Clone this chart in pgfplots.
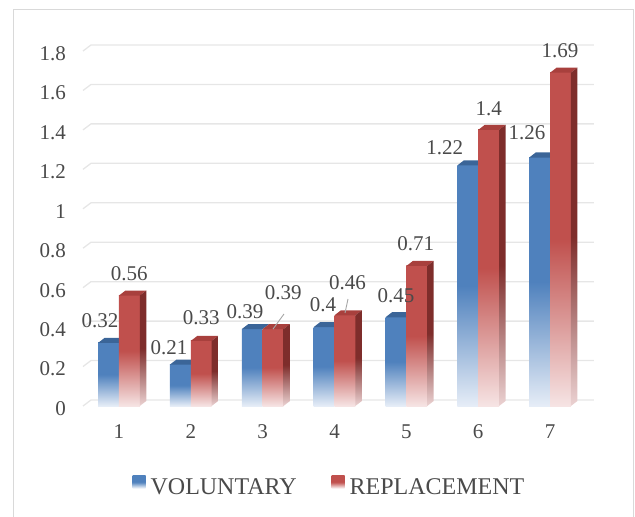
\documentclass[border=0pt]{standalone}
\usepackage{pgfplots}
\pgfplotsset{compat=1.18}
\usepackage{pgfplotstable}
\usepackage{fontspec}
\setmainfont{Liberation Serif}
\definecolor{cblue}{HTML}{4F81BD}
\definecolor{cbluetop}{HTML}{3B6598}
\definecolor{cbluelow}{HTML}{E6EDF7}
\definecolor{cred}{HTML}{C0504D}
\definecolor{credtop}{HTML}{A8403D}
\definecolor{credside}{HTML}{7E2D2B}
\definecolor{credlow}{HTML}{F6E4E4}
\definecolor{credsidelow}{HTML}{EBD2D2}
\definecolor{cgrid}{HTML}{E6E6E6}
\definecolor{cframe}{HTML}{D9D9D9}
\definecolor{ctext}{HTML}{4A4A4A}
\definecolor{clead}{HTML}{A6A6A6}

% k = category, v = value, lx/ly = label offset (pt) from top of the bar
\pgfplotstableread{
k v lx ly lab
1 0.32 -8.5 21.9 0.32
2 0.21 -11.4 16.6 0.21
3 0.39 -7.2 17.0 0.39
4 0.40 -1.0 22.0 0.4
5 0.45 0.0 22.0 0.45
6 1.22 -23.0 18.0 1.22
7 1.26 -12.7 24.5 1.26
}\voluntary

\pgfplotstableread{
k v lx ly lab
1 0.56 0.0 21.6 0.56
2 0.33 0.0 23.4 0.33
3 0.39 10.3 36.6 0.39
4 0.46 2.6 32.8 0.46
5 0.71 -1.0 22.0 0.71
6 1.40 0.0 21.6 1.4
7 1.69 -0.5 21.9 1.69
}\replacement

\pgfplotstableread{
x y
0.5 0
0.611 0.0304
7.61 0.0304
}\gridprof

\newcommand\bluetop[2]{%
  \pgfmathsetmacro\xa{#1-0.29}\pgfmathsetmacro\xb{#1}%
  \pgfmathsetmacro\xc{#1+0.0905}\pgfmathsetmacro\xd{#1-0.29+0.0905}%
  \pgfmathsetmacro\yt{#2+0.0254}%
  \addplot[fill=cbluetop, draw=none, forget plot] coordinates {(\xa,#2) (\xb,#2) (\xc,\yt) (\xd,\yt)};
}
\newcommand\redfaces[2]{%
  \pgfmathsetmacro\xa{#1}\pgfmathsetmacro\xb{#1+0.29}%
  \pgfmathsetmacro\xc{#1+0.29+0.0905}\pgfmathsetmacro\xd{#1+0.0905}%
  \pgfmathsetmacro\yt{#2+0.0254}%
  \addplot[fill=credtop, draw=none, forget plot] coordinates {(\xa,#2) (\xb,#2) (\xc,\yt) (\xd,\yt)};
  \addplot[draw=none, top color=credside, bottom color=credsidelow, middle color=credside, forget plot] coordinates {(\xb,0) (\xc,0.0254) (\xc,\yt) (\xb,#2)};
}

\begin{document}
\begin{tikzpicture}
\useasboundingbox (0pt,0pt) rectangle (635pt,-517pt);
\draw[cframe, line width=1.3pt] (13.5pt,-530pt) -- (13.5pt,-9.5pt) -- (633.5pt,-9.5pt) -- (633.5pt,-530pt);
\begin{axis}[
  at={(83pt,-406pt)}, anchor=south west,
  scale only axis, width=503pt, height=355pt,
  xmin=0.5, xmax=7.5, ymin=0, ymax=1.8,
  clip=false,
  axis line style={draw=none},
  major tick length=0pt,
  xtick={1,2,3,4,5,6,7},
  ytick={0,0.2,0.4,0.6,0.8,1,1.2,1.4,1.6,1.8},
  /pgf/number format/assume math mode=true,
  tick label style={font=\fontsize{21}{21}\selectfont, text=ctext},
  yticklabel style={anchor=east, inner sep=0pt, xshift=-17pt, yshift=-2.5pt},
  xticklabel style={anchor=center, inner sep=0pt, yshift=-26pt},
  legend style={at={(0.49,-0.228)}, anchor=center, draw=none, fill=none,
    legend columns=2, font=\fontsize{24}{24}\selectfont, text=ctext,
    /tikz/every even column/.append style={column sep=33pt}},
  legend cell align=left,
]
\pgfplotsinvokeforeach{0,0.2,0.4,0.6,0.8,1.0,1.2,1.4,1.6,1.8}{
  \addplot[cgrid, line width=1.3pt, forget plot] table[x=x, y expr=\thisrow{y}+#1] {\gridprof};
}
\addlegendimage{draw=none, mark=none, legend image code/.code={\path[draw=none, top color=cblue, bottom color=white, middle color=cblue] (0pt,-1pt) rectangle (13pt,12pt); \path (16pt,0pt);}}
\addlegendentry{VOLUNTARY}
\addlegendimage{draw=none, mark=none, legend image code/.code={\path[draw=none, top color=cred, bottom color=white, middle color=cred] (0pt,-1pt) rectangle (13pt,12pt); \path (16pt,0pt);}}
\addlegendentry{REPLACEMENT}
% front faces, one bar per plot so each gets its own gradient
\pgfplotsinvokeforeach{0,1,2,3,4,5,6}{
  \addplot[ybar, bar width=0.29, bar shift=-0.145, draw=none, forget plot,
    top color=cblue, bottom color=cbluelow, middle color=cblue,
    restrict expr to domain={\coordindex}{#1:#1}]
    table[x=k, y=v] {\voluntary};
}
\bluetop{1}{0.32}\bluetop{2}{0.21}\bluetop{3}{0.39}\bluetop{4}{0.40}
\bluetop{5}{0.45}\bluetop{6}{1.22}\bluetop{7}{1.26}
\pgfplotsinvokeforeach{0,1,2,3,4,5,6}{
  \addplot[ybar, bar width=0.29, bar shift=0.145, draw=none, forget plot,
    top color=cred, bottom color=credlow, middle color=cred,
    restrict expr to domain={\coordindex}{#1:#1}]
    table[x=k, y=v] {\replacement};
}
\redfaces{1}{0.56}\redfaces{2}{0.33}\redfaces{3}{0.39}\redfaces{4}{0.46}
\redfaces{5}{0.71}\redfaces{6}{1.40}\redfaces{7}{1.69}
% leader lines
\addplot[clead, line width=0.9pt, forget plot] coordinates {(3.144,0.390) (3.297,0.4665)};
\addplot[clead, line width=0.9pt, forget plot] coordinates {(4.146,0.4716) (4.188,0.5426)};
% data labels
\addplot[draw=none, mark=none, forget plot, nodes near coords, point meta=explicit symbolic,
  visualization depends on={\thisrow{lx}\as\lx},
  visualization depends on={\thisrow{ly}\as\ly},
  every node near coord/.append style={anchor=center, xshift=\lx, yshift=\ly,
    font=\fontsize{21}{21}\selectfont, text=ctext}]
  table[x expr=\thisrow{k}-0.145, y=v, meta=lab] {\voluntary};
\addplot[draw=none, mark=none, forget plot, nodes near coords, point meta=explicit symbolic,
  visualization depends on={\thisrow{lx}\as\lx},
  visualization depends on={\thisrow{ly}\as\ly},
  every node near coord/.append style={anchor=center, xshift=\lx, yshift=\ly,
    font=\fontsize{21}{21}\selectfont, text=ctext}]
  table[x expr=\thisrow{k}+0.145, y=v, meta=lab] {\replacement};
\end{axis}
\end{tikzpicture}
\end{document}
